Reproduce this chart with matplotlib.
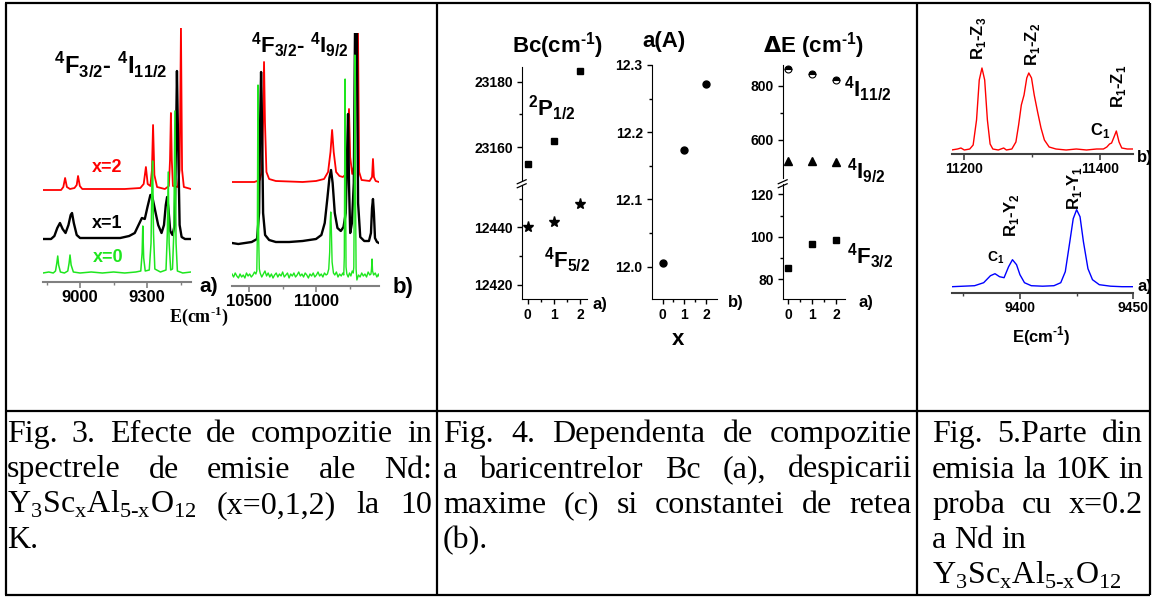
import matplotlib
matplotlib.use('Agg')
import matplotlib.pyplot as plt
from matplotlib.lines import Line2D
from matplotlib.ticker import FixedLocator

plt.rcParams['font.family'] = ['Liberation Sans', 'DejaVu Sans']
plt.rcParams['font.weight'] = 'bold'

# ---- Fig. 3 a) 4F3/2 - 4I11/2 (cm-1, intensity a.u. above each baseline)
f3a_x2_x = [8834, 8915, 8925, 8933, 8941, 8955, 8975, 8985, 8991, 8999, 9010, 9100, 9200, 9270,
            9285, 9295, 9303, 9315, 9322, 9327, 9333, 9345, 9380, 9398, 9403, 9407, 9411, 9416,
            9438, 9446, 9452, 9457, 9465, 9497]
f3a_x2_y = [0, 0, 3, 12, 3, 1, 2, 5, 14, 4, 1, 1, 1, 2,
            6, 23, 6, 4, 20, 65, 15, 3, 1, 4, 30, 77, 30, 4,
            3, 20, 162, 20, 3, 1]
f3a_x1_x = [8834, 8870, 8885, 8898, 8910, 8922, 8935, 8948, 8958, 8964, 8972, 8985, 9000, 9100,
            9180, 9220, 9245, 9262, 9277, 9290, 9302, 9315, 9322, 9335, 9350, 9365, 9376, 9384,
            9390, 9396, 9404, 9414, 9424, 9430, 9434, 9439, 9446, 9455, 9470, 9497]
f3a_x1_y = [0, 0, 3, 11, 16, 10, 6, 14, 24, 26, 16, 4, 1, 1,
            1, 3, 6, 14, 21, 20, 32, 44, 44, 30, 14, 6, 14, 34,
            42, 30, 8, 4, 14, 100, 168, 100, 14, 2, 0, 0]
f3a_x0_x = [8834, 8860, 8880, 8890, 8896, 8900, 8904, 8912, 8930, 8945, 8951, 8955, 8960, 8970,
            9000, 9050, 9100, 9150, 9200, 9250, 9272, 9278, 9281, 9285, 9292, 9310, 9318, 9322,
            9325, 9329, 9335, 9360, 9385, 9391, 9395, 9399, 9406, 9414, 9420, 9425, 9430, 9436,
            9460, 9497]
f3a_x0_y = [0, 1, 0, 2, 10, 17, 8, 1, 0, 2, 10, 18, 8, 1,
            0, 1, 0, 1, 0, 1, 2, 20, 47, 15, 2, 3, 30, 90,
            112, 40, 4, 1, 3, 40, 101, 30, 3, 4, 40, 162, 30, 2,
            0, 1]

# ---- Fig. 3 b) 4F3/2 - 4I9/2
f3b_x2_x = [10373, 10540, 10580, 10595, 10605, 10612, 10619, 10630, 10650, 10700, 10900, 11000,
            11060, 11090, 11108, 11120, 11132, 11150, 11175, 11200, 11225, 11236, 11246, 11255,
            11270, 11290, 11300, 11306, 11312, 11322, 11340, 11400, 11418, 11425, 11432, 11445, 11470]
f3b_x2_y = [0, 0, 2, 10, 60, 120, 60, 10, 3, 1, 0, 1,
            3, 10, 30, 52, 30, 10, 6, 5, 8, 30, 73, 25,
            8, 20, 170, 190, 170, 10, 2, 1, 5, 23, 5, 1, 0]
f3b_x1_x = [10373, 10420, 10520, 10560, 10575, 10583, 10590, 10597, 10605, 10620, 10650, 10700,
            10800, 10900, 11000, 11040, 11065, 11085, 11100, 11112, 11124, 11140, 11160, 11185,
            11205, 11222, 11232, 11239, 11246, 11255, 11268, 11282, 11292, 11298, 11304, 11314,
            11330, 11360, 11395, 11410, 11418, 11425, 11432, 11440, 11455, 11470]
f3b_x1_y = [0, -1, 1, 4, 30, 120, 171, 120, 30, 8, 3, 1,
            1, 2, 4, 8, 20, 45, 65, 73, 60, 30, 15, 12,
            16, 30, 90, 129, 60, 10, 20, 60, 230, 250, 230, 40,
            6, 2, 2, 10, 35, 44, 30, 5, 1, 0]
f3b_x0_x = [10373, 10385, 10397, 10409, 10421, 10433, 10445, 10457, 10469, 10481, 10493, 10505,
            10517, 10529, 10541, 10551, 10558, 10562, 10565, 10567, 10569, 10572, 10577, 10583,
            10595, 10607, 10619, 10631, 10643, 10655, 10667, 10679, 10691, 10703, 10715, 10727,
            10739, 10751, 10763, 10775, 10787, 10799, 10811, 10823, 10835, 10847, 10859, 10871,
            10883, 10895, 10907, 10919, 10931, 10943, 10955, 10967, 10979, 10991, 11003, 11015,
            11027, 11039, 11051, 11063, 11075, 11085, 11095, 11102, 11106, 11110, 11114, 11120,
            11130, 11140, 11152, 11164, 11176, 11188, 11200, 11207, 11211, 11214, 11217, 11220,
            11224, 11230, 11240, 11250, 11260, 11270, 11278, 11282, 11286, 11290, 11294, 11299,
            11305, 11317, 11329, 11341, 11353, 11365, 11377, 11389, 11401, 11410, 11414, 11418,
            11422, 11430, 11442, 11454, 11466, 11470]
f3b_x0_y = [3, 0, 4, 1, -1, 3, 0, 2, -1, 4, 1, 3,
            0, 2, 5, 3, 6, 40, 150, 192, 150, 40, 8, 4,
            0, 3, 6, 1, 4, 0, 3, -1, 2, 4, 0, 3,
            1, 5, 0, 2, 4, -1, 3, 1, 4, 0, 2, 5,
            1, 3, 0, 4, 2, -1, 3, 1, 4, 0, 2, 5,
            1, 3, 0, 4, 2, 3, 8, 25, 55, 65, 50, 15,
            4, 2, 5, 0, 3, 1, 4, 2, 20, 120, 198, 110,
            10, 3, 0, 4, 1, 6, 4, 10, 90, 222, 100, 8,
            -3, 2, 0, 4, 1, 3, 0, 5, 2, 3, 8, 18,
            6, 2, 4, 0, 3, 1]

# ---- Fig. 4 values vs x
x_comp = [0, 1, 2]
bc_p12 = [23155, 23162, 23183.4]
bc_f52 = [12440, 12441.8, 12448]
lattice_a = [12.005, 12.173, 12.271]
de_i112 = [860, 843, 821]
de_i92 = [523, 523, 518]
de_f32 = [85.1, 96.6, 98.7]

# ---- Fig. 5 x=0.2 spectra
f5b_x = [11181, 11190, 11195, 11200, 11208, 11213, 11218, 11222, 11226, 11230, 11234, 11238,
         11242, 11250, 11258, 11262, 11270, 11276, 11280, 11284, 11288, 11292, 11295, 11299,
         11303, 11308, 11313, 11318, 11325, 11335, 11350, 11365, 11380, 11395, 11405, 11410,
         11414, 11417, 11420, 11424, 11428, 11432, 11440, 11449]
f5b_y = [0, 1, 2, 0, 1, 5, 30, 70, 82, 70, 30, 6,
         1, 0, 2, 0, 1, 8, 25, 45, 55, 72, 77, 72,
         55, 38, 22, 10, 3, 1, 0, 1, 0, 1, 1, 3,
         6, 7, 12, 19, 8, 2, 1, 1]
f5a_x = [9370, 9375, 9380, 9384, 9387, 9389, 9391, 9393, 9395, 9396.7, 9398.5, 9400, 9402,
         9405, 9410, 9415, 9418, 9420, 9422, 9423.5, 9425, 9426.5, 9428, 9430, 9432, 9435,
         9440, 9445, 9450]
f5a_y = [0, 0.5, 1, 4, 11, 13, 10, 9, 20, 27, 22, 12, 4,
         1, 0.5, 1, 4, 15, 45, 68, 77, 70, 45, 18, 7, 2,
         0.5, 0, 0]

FORMULA = "Y$_\\mathregular{3}$Sc$_\\mathregular{x}$Al$_\\mathregular{5\u2010x}$O$_\\mathregular{12}$"
cap3 = [("Fig. 3. Efecte de compozitie in", True),
        ("spectrele de emisie ale Nd:", True),
        (FORMULA + " (x=0,1,2) la 10", True),
        ("K.", False)]
cap4 = [("Fig. 4. Dependenta de compozitie", True),
        ("a baricentrelor Bc (a), despicarii", True),
        ("maxime (c) si constantei de retea", True),
        ("(b).", False)]
cap5 = [("Fig. 5.Parte din", True),
        ("emisia la 10K in", True),
        ("proba cu x=0.2", True),
        ("a Nd in", False),
        (FORMULA, False)]

CM = "(cm$^\\mathregular{\u20101}$)"

W, H = 1153, 597
fig = plt.figure(figsize=(W / 100, H / 100), dpi=100)
fig.patch.set_facecolor('white')


def box(l, t, r, b):
    ax = fig.add_axes([l / W, 1 - b / H, (r - l) / W, (b - t) / H])
    ax.patch.set_visible(False)
    return ax


def label(x, y, s, ha='center', va='center', **kw):
    return fig.text(x / W, 1 - y / H, s, ha=ha, va=va, **kw)


def rule(x0, y0, x1, y1, lw=1.6, color='black'):
    fig.add_artist(Line2D([x0 / W, x1 / W], [1 - y0 / H, 1 - y1 / H], lw=lw, color=color,
                          transform=fig.transFigure, solid_capstyle='butt'))


def spectrum_axes(ax, xlim, ylim, major, minor, color, size):
    ax.set_xlim(*xlim)
    ax.set_ylim(*ylim)
    for s in ['top', 'left', 'right']:
        ax.spines[s].set_visible(False)
    ax.spines['bottom'].set_color(color)
    ax.spines['bottom'].set_linewidth(1.5)
    ax.set_yticks([])
    ax.xaxis.set_major_locator(FixedLocator(major))
    ax.xaxis.set_minor_locator(FixedLocator(minor))
    ax.tick_params(axis='x', which='both', direction='out', color=color, labelsize=size)
    ax.tick_params(axis='x', which='major', length=4, width=1.2, pad=2)
    ax.tick_params(axis='x', which='minor', length=2.5, width=1.0)


def point_axes(ax, xlim, ylim, yticks, ylabels, yminor, part=None):
    ax.set_xlim(*xlim)
    ax.set_ylim(*ylim)
    ax.spines['top'].set_visible(False)
    ax.spines['right'].set_visible(False)
    ax.set_yticks(yticks, labels=ylabels)
    ax.yaxis.set_minor_locator(FixedLocator(yminor))
    ax.set_xticks(x_comp, labels=[str(v) for v in x_comp])
    ax.xaxis.set_minor_locator(FixedLocator([0.5, 1.5]))
    ax.tick_params(which='both', direction='out', labelsize=10, width=1)
    ax.tick_params(which='major', length=3.5, pad=3)
    ax.tick_params(which='minor', length=2)
    if part == 'upper':
        ax.spines['bottom'].set_visible(False)
        ax.tick_params(axis='x', which='both', bottom=False, labelbottom=False)


RED, BLACK, GREEN, BLUE = '#ff0000', '#000000', '#1ee61e', '#0000ff'

# ---------------- Fig. 3 a
ax = box(43, 28, 191, 282)
ax.plot(f3a_x2_x, [v + 92 for v in f3a_x2_y], color=RED, lw=1.3)
ax.plot(f3a_x1_x, [v + 43 for v in f3a_x1_y], color=BLACK, lw=1.7)
ax.plot(f3a_x0_x, [v + 9 for v in f3a_x0_y], color=GREEN, lw=1.1)
spectrum_axes(ax, (8834, 9497), (0, 254), [9000, 9300], [8850, 9150, 9450], '#808080', 12)

# ---------------- Fig. 3 b
ax = box(232, 33, 379, 286)
ax.plot(f3b_x2_x, [v + 104 for v in f3b_x2_y], color=RED, lw=1.3)
ax.plot(f3b_x1_x, [v + 43 for v in f3b_x1_y], color=BLACK, lw=1.7)
ax.plot(f3b_x0_x, [v + 9 for v in f3b_x0_y], color=GREEN, lw=1.0)
spectrum_axes(ax, (10373, 11470), (0, 253), [10500, 11000], [10750, 11250], '#808080', 12)

label(111, 66, r'$^\mathregular{4}$F$_\mathregular{3/2}$- $^\mathregular{4}$I$_\mathregular{11/2}$', fontsize=17)
label(300, 45, r'$^\mathregular{4}$F$_\mathregular{3/2}$- $^\mathregular{4}$I$_\mathregular{9/2}$', fontsize=16)
label(107, 168, 'x=2', color=RED, fontsize=13)
label(107, 223, 'x=1', color=BLACK, fontsize=13)
label(108, 258, 'x=0', color=GREEN, fontsize=13)
label(209, 286, 'a)', fontsize=15)
label(403, 288, 'b)', fontsize=16)
label(199, 316, 'E' + CM, fontsize=13, family='Liberation Serif')

# ---------------- Fig. 4 a (broken axis)
ax = box(521.7, 67, 586.7, 180)
ax.plot(x_comp, bc_p12, 's', color='black', ms=4.5)
point_axes(ax, (-0.23, 2.24), (23150, 23184.5), [23160, 23180], ['23160', '23180'], [23170], 'upper')
ax = box(521.7, 185, 586.7, 299)
ax.plot(x_comp, bc_f52, '*', color='black', ms=8)
point_axes(ax, (-0.23, 2.24), (12415.1, 12454.7), [12420, 12440], ['12420', '12440'], [12430, 12450])

# ---------------- Fig. 4 b
ax = box(651.7, 65, 716.7, 299)
ax.plot(x_comp, lattice_a, 'o', color='black', ms=5)
point_axes(ax, (-0.5, 2.5), (11.952, 12.3), [12.0, 12.1, 12.2, 12.3],
           ['12.0', '12.1', '12.2', '12.3'], [12.05, 12.15, 12.25])

# ---------------- Fig. 4 c (broken axis)
ax = box(782.7, 65, 845, 178)
ax.plot(x_comp, de_i112, 'o', color='black', ms=5, fillstyle='top',
        markerfacecoloralt='white', markeredgecolor='black', mew=0.8)
ax.plot(x_comp, de_i92, '^', color='black', ms=6)
point_axes(ax, (-0.24, 2.38), (459, 876), [600, 800], ['600', '800'], [700], 'upper')
ax = box(782.7, 184, 845, 299)
ax.plot(x_comp, de_f32, 's', color='black', ms=4.8)
point_axes(ax, (-0.24, 2.38), (70.7, 124.9), [80, 100, 120], ['80', '100', '120'], [90, 110])

for xs in (521.7, 782.7):
    rule(xs - 5, 184, xs + 5, 179.5, lw=0.9)
    rule(xs - 5, 188, xs + 5, 183.5, lw=0.9)

label(557, 46, 'Bc' + CM, fontsize=16)
label(664, 41, 'a(A)', fontsize=16)
label(813, 46, r'$\Delta$E ' + CM, fontsize=16)
label(552, 108, r'$^\mathregular{2}$P$_\mathregular{1/2}$', fontsize=16)
label(567, 260, r'$^\mathregular{4}$F$_\mathregular{5/2}$', fontsize=16)
label(868, 89, r'$^\mathregular{4}$I$_\mathregular{11/2}$', fontsize=16)
label(866, 171, r'$^\mathregular{4}$I$_\mathregular{9/2}$', fontsize=16)
label(870, 256, r'$^\mathregular{4}$F$_\mathregular{3/2}$', fontsize=16)
label(600, 304, 'a)', fontsize=12)
label(736, 302, 'b)', fontsize=12)
label(866, 303, 'a)', fontsize=12)
label(678, 340, 'x', fontsize=16)

# ---------------- Fig. 5
ax = box(951.7, 60, 1133.3, 154)
ax.plot(f5b_x, [v + 4 for v in f5b_y], color=RED, lw=1.0)
spectrum_axes(ax, (11181.4, 11449), (0, 94), [11200, 11400], [11300], '#404040', 10)
ax = box(951.7, 200, 1133.3, 292.7)
ax.plot(f5a_x, [v + 6 for v in f5a_y], color=BLUE, lw=1.0)
spectrum_axes(ax, (9369.9, 9450), (0, 92.7), [9400, 9450], [9375, 9425], '#404040', 10)

label(978, 38, r'R$_\mathregular{1}$-Z$_\mathregular{3}$', fontsize=12, rotation=90)
label(1032, 44, r'R$_\mathregular{1}$-Z$_\mathregular{2}$', fontsize=12, rotation=90)
label(1118, 86, r'R$_\mathregular{1}$-Z$_\mathregular{1}$', fontsize=12, rotation=90)
label(1100, 130, r'C$_\mathregular{1}$', fontsize=12)
label(1012, 215, r'R$_\mathregular{1}$-Y$_\mathregular{2}$', fontsize=12, rotation=90)
label(1074, 188, r'R$_\mathregular{1}$-Y$_\mathregular{1}$', fontsize=12, rotation=90)
label(996, 258, r'C$_\mathregular{1}$', fontsize=10)
label(1137, 157, 'b)', fontsize=12, ha='left')
label(1137, 286, 'a)', fontsize=12, ha='left')
label(1041, 336, 'E' + CM, fontsize=12)

# ---------------- table rules
rule(5, 3, 1150, 3)
rule(5, 595, 1150, 595)
rule(5, 411, 1150, 411)
for xv in (5.5, 437, 917, 1149.5):
    rule(xv, 3, xv, 595)

# ---------------- captions (justified)
CAP = 23
renderer = fig.canvas.get_renderer()


def caption(lines, x0, x1, y0, dy):
    for i, (line, just) in enumerate(lines):
        y = y0 + i * dy
        words = line.split(' ')
        texts = [label(x0, y, w, ha='left', va='baseline', family='Liberation Serif',
                       fontweight='normal', fontsize=CAP) for w in words]
        widths = [t.get_window_extent(renderer).width for t in texts]
        if just and len(words) > 1:
            gap = (x1 - x0 - sum(widths)) / (len(words) - 1)
        else:
            gap = CAP * 100 / 72 * 0.25
        xp = x0
        for t, w in zip(texts, widths):
            t.set_x(xp / W)
            xp += w + gap


caption(cap3, 7, 432, 442, 35.5)
caption(cap4, 443, 912, 442, 35.5)
caption(cap5, 932, 1143, 442, 35.5)

fig.savefig('out.png', dpi=100)
